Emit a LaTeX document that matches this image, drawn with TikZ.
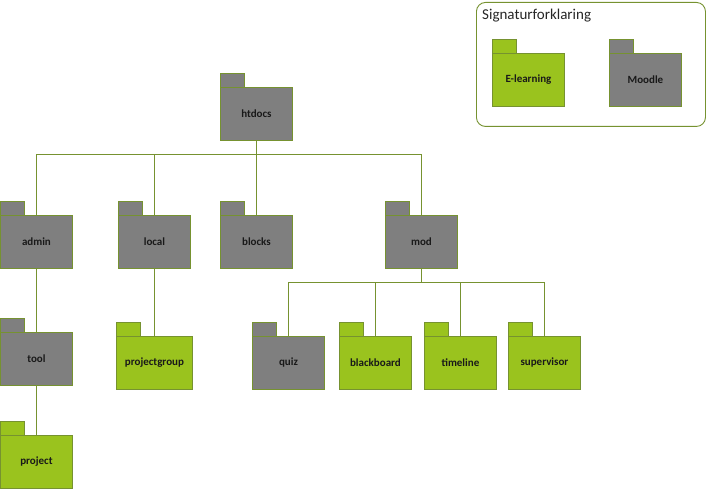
\documentclass[tikz,border=0pt]{standalone}
\usepackage{fontspec}
\setmainfont{Carlito}
\usetikzlibrary{calc}
\definecolor{olive}{RGB}{118,146,48}
\definecolor{elgreen}{RGB}{154,195,30}
\definecolor{mgray}{RGB}{127,127,127}
\tikzset{
  folder/.style={draw=olive, line width=0.9pt, fill=#1, anchor=north west,
    minimum width=72pt, minimum height=53pt, inner sep=0pt,
    font=\bfseries\fontsize{11}{13}\selectfont, text=black!90},
  gfolder/.style={folder=mgray},
  efolder/.style={folder=elgreen},
  tab/.style={draw=olive, line width=0.9pt},
  conn/.style={draw=olive, line width=0.9pt},
}
\begin{document}
\begin{tikzpicture}[x=1pt,y=-1pt]
\useasboundingbox (0,0) rectangle (710,489);
% legend
\node[draw=olive, line width=0.9pt, rounded corners=9pt, fill=white,
  minimum width=229pt, minimum height=124pt, anchor=north west] (legend) at (476,2) {};
\node[anchor=west, font=\fontsize{15}{18}\selectfont, text=black!85, inner sep=0pt] (legtitle) at (482,15.5) {Signaturforklaring};
\node[efolder] (elearn) at (492,53) {E-learning};
\node[gfolder] (moodle) at (609,53) {Moodle};
% tree
\node[gfolder] (htdocs) at (220,87) {htdocs};
\node[gfolder] (admin) at (0,215) {admin};
\node[gfolder] (local) at (118,215) {local};
\node[gfolder] (blocks) at (220,215) {blocks};
\node[gfolder] (mod) at (385,215) {mod};
\node[gfolder] (tool) at (0,332) {tool};
\node[efolder] (project) at (0,435) {project};
\node[efolder, minimum width=76pt] (pgroup) at (116,336) {projectgroup};
\node[gfolder] (quiz) at (252,336) {quiz};
\node[efolder] (bboard) at (339,336) {blackboard};
\node[efolder] (timeline) at (424,336) {timeline};
\node[efolder] (superv) at (508,336) {supervisor};
% tabs
\foreach \n/\c in {elearn/elgreen, moodle/mgray, htdocs/mgray, admin/mgray,
    local/mgray, blocks/mgray, mod/mgray, tool/mgray, project/elgreen,
    pgroup/elgreen, quiz/mgray, bboard/elgreen, timeline/elgreen, superv/elgreen}
  \draw[tab, fill=\c] (\n.north west) rectangle ++(24pt,14pt);
% connectors
\coordinate (hb) at ($(htdocs.south)+(0,14)$);
\draw[conn] (htdocs.south) -- (hb);
\draw[conn] (hb) -| (admin.north);
\draw[conn] (hb) -| (local.north);
\draw[conn] (hb) -| (blocks.north);
\draw[conn] (hb) -| (mod.north);
\coordinate (mb) at ($(mod.south)+(0,14)$);
\draw[conn] (mod.south) -- (mb);
\draw[conn] (mb) -| (quiz.north);
\draw[conn] (mb) -| (bboard.north);
\draw[conn] (mb) -| (timeline.north);
\draw[conn] (mb) -| (superv.north);
\draw[conn] (admin.south) -- (tool.north);
\draw[conn] (tool.south) -- (project.north);
\draw[conn] (local.south) -- (pgroup.north);
\end{tikzpicture}
\end{document}
